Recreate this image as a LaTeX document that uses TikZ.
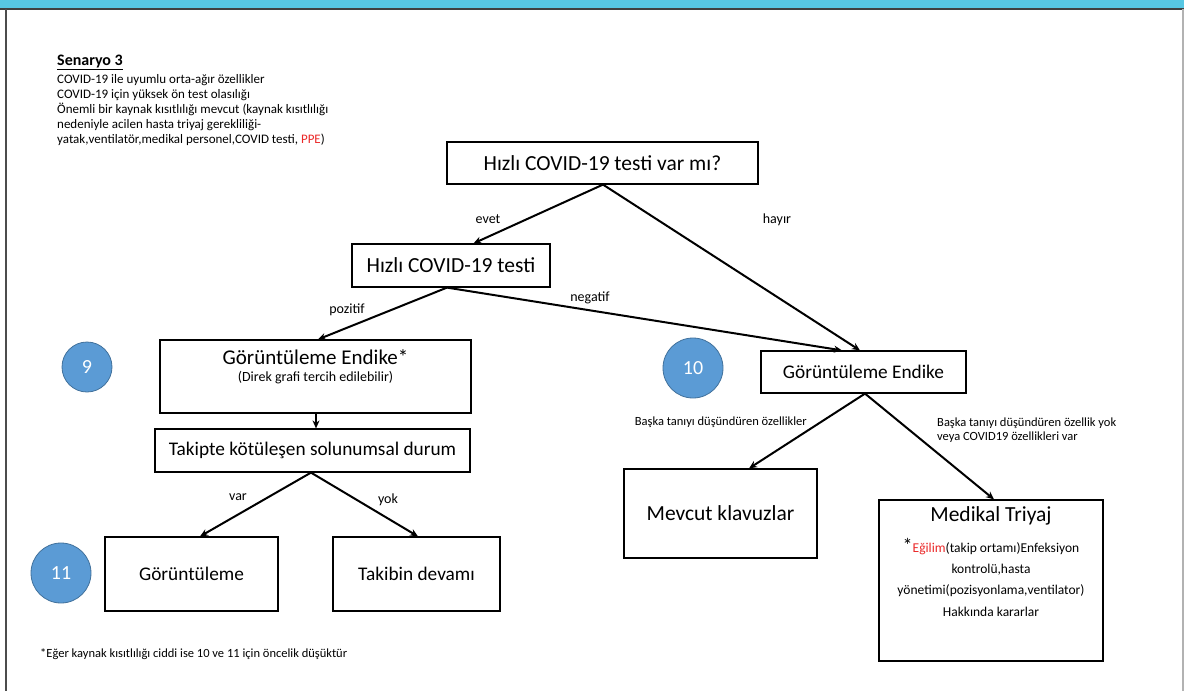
\documentclass[tikz,border=0pt]{standalone}
\usepackage{fontspec}
\setmainfont{Carlito}
\usetikzlibrary{arrows.meta,calc}
\definecolor{barcyan}{RGB}{87,199,227}
\definecolor{circfill}{RGB}{91,155,213}
\definecolor{circdraw}{RGB}{65,113,156}
\definecolor{redtxt}{RGB}{235,40,40}
\newcommand{\fsz}[1]{\fontsize{#1}{#1}\selectfont}
\begin{document}
\begin{tikzpicture}[x=1pt,y=-1pt,
  box/.style={draw=black, line width=1.2pt, rectangle, inner sep=0pt, anchor=center},
  num/.style={circle, fill=circfill, draw=circdraw, line width=0.8pt, text=white, inner sep=0pt, font=\fsz{20}},
  conn/.style={line width=2pt, -{Stealth[length=8pt,width=7pt]}},
  lbl/.style={inner sep=0pt, font=\fsz{14}},
  small/.style={inner sep=0pt, font=\fsz{12.5}},
  desc/.style={inner sep=0pt, anchor=base west, font=\fsz{13}}]
\useasboundingbox (0,0) rectangle (1184,691);
\fill[white] (0,0) rectangle (1184,691);
\fill[barcyan] (0,0) rectangle (1184,8.5);
\draw[line width=2pt, black!75] (0,9) -- (1184,9);
\draw[line width=1.5pt, black!70] (6,9) -- (6,691);
\draw[line width=1.5pt, black!30] (1183,9) -- (1183,691);

% top-left description
\node[inner sep=0pt, anchor=base west, font=\bfseries\fsz{16}] (sen) at (57,65) {\underline{Senaryo 3}};
\node[desc] (d1) at (57,83.5) {COVID-19 ile uyumlu orta-ağır özellikler};
\node[desc] (d2) at (57,98.5) {COVID-19 için yüksek ön test olasılığı};
\node[desc] (d3) at (57,113.5) {Önemli bir kaynak kısıtlılığı mevcut (kaynak kısıtlılığı};
\node[desc] (d4) at (57,128.5) {nedeniyle acilen hasta triyaj gerekliliği-};
\node[desc] (d5) at (57,143.5) {yatak,ventilatör,medikal personel,COVID testi, \textcolor{redtxt}{PPE})};

% boxes
\node[box, minimum width=311pt, minimum height=42pt, font=\fsz{21.5}] (b1) at (602.5,163) {Hızlı COVID-19 testi var mı?};
\node[box, minimum width=198pt, minimum height=43pt, font=\fsz{21.5}] (b2) at (451,265.5) {Hızlı COVID-19 testi};
\node[box, minimum width=311pt, minimum height=73pt] (b3) at (315.5,376.5) {};
\node[inner sep=0pt, font=\fsz{21}] (b3t) at (315.5,357) {Görüntüleme Endike*};
\node[inner sep=0pt, font=\fsz{14}] (b3s) at (315.5,378) {(Direk grafi tercih edilebilir)};
\node[box, minimum width=315pt, minimum height=43pt, font=\fsz{19.3}] (b4) at (312.5,450.5) {Takipte kötüleşen solunumsal durum};
\node[box, minimum width=173pt, minimum height=74pt, font=\fsz{19.3}] (b5) at (191.5,574) {Görüntüleme};
\node[box, minimum width=167pt, minimum height=74pt, font=\fsz{19.3}] (b6) at (416.5,574) {Takibin devamı};
\node[box, minimum width=205pt, minimum height=42pt, font=\fsz{19.3}] (b7) at (863.5,372) {Görüntüleme Endike};
\node[box, minimum width=193pt, minimum height=89pt, font=\fsz{21.5}] (b8) at (720.5,513.5) {Mevcut klavuzlar};
\node[box, minimum width=224pt, minimum height=161pt] (b9) at (991,580.5) {};
\node[inner sep=0pt, font=\fsz{21.5}] (b9t) at (991,516) {Medikal Triyaj};
\node[inner sep=0pt, align=center, font=\fontsize{13.5}{21.3}\selectfont] (b9b) at (991,577) {{\fsz{20}*}\textcolor{redtxt}{Eğilim}(takip ortamı)Enfeksiyon\\kontrolü,hasta\\yönetimi(pozisyonlama,ventilator)\\Hakkında kararlar};

% numbered circles
\node[num, minimum size=50pt] (c9) at (87,367) {9};
\node[num, minimum size=60pt] (c10) at (693,368) {10};
\node[num, minimum size=60pt] (c11) at (61,573) {11};

% connectors
\draw[conn] ([xshift=0.5pt]b1.south) -- ([xshift=22.5pt]b2.north);
\draw[conn] ([xshift=0.5pt]b1.south) -- ([xshift=-3.5pt]b7.north);
\draw[conn] ([xshift=-4pt]b2.south) -- ([xshift=2.5pt]b3.north);
\draw[conn] ([xshift=-4pt]b2.south) -- ([xshift=-21.5pt]b7.north);
\draw[conn] ([xshift=0.5pt]b3.south) -- ([xshift=3.5pt]b4.north);
\draw[conn] ([xshift=-1.5pt]b4.south) -- ([xshift=8.5pt]b5.north);
\draw[conn] ([xshift=-1.5pt]b4.south) -- ([xshift=1.5pt]b6.north);
\draw[conn] ([xshift=1.5pt]b7.south) -- ([xshift=28.5pt]b8.north);
\draw[conn] ([xshift=1.5pt]b7.south) -- ([xshift=3pt]b9.north);

% connector labels
\node[lbl] (levet) at (488,219) {evet};
\node[lbl] (lhayir) at (777,220) {hayır};
\node[lbl] (lpoz) at (347,310) {pozitif};
\node[lbl] (lneg) at (590,298) {negatif};
\node[lbl] (lvar) at (238,497) {var};
\node[lbl] (lyok) at (388,500) {yok};
\node[small, anchor=east] (lbaska) at (807,422) {Başka tanıyı düşündüren özellikler};
\node[small, anchor=base west] (lyok1) at (937,426) {Başka tanıyı düşündüren özellik yok};
\node[small, anchor=base west] (lyok2) at (937,440) {veya COVID19 özellikleri var};

% footnote
\node[inner sep=0pt, anchor=base west, font=\fsz{12.5}] (fn) at (40,657) {*Eğer kaynak kısıtlılığı ciddi ise 10 ve 11 için öncelik düşüktür};
\end{tikzpicture}
\end{document}
